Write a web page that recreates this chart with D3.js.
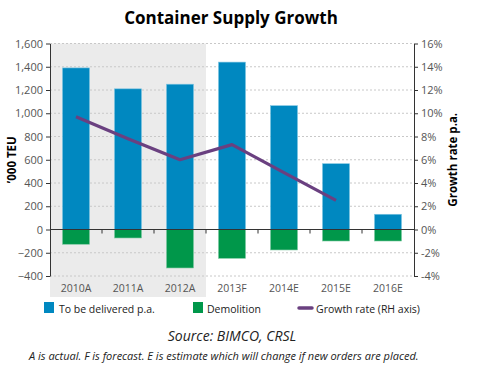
<!DOCTYPE html>
<html><head><meta charset="utf-8">
<script src="https://cdn.jsdelivr.net/npm/d3@7"></script>
<style>body{margin:0;background:#fff}svg{display:block}text{font-family:"Open Sans","Noto Sans",sans-serif}</style>
</head><body><svg id="c" width="480" height="367"></svg>
<script>
const categories = ["2010A","2011A","2012A","2013F","2014E","2015E","2016E"];
const delivered = [1390,1210,1250,1440,1065,566,131];
const demolition = [-127,-73,-331,-248,-176,-99,-99];
const growth = [9.7,7.8,6.0,7.3,4.9,2.5,null];
const leftTicks = [-400,-200,0,200,400,600,800,1000,1200,1400,1600];
const rightTicks = [-4,-2,0,2,4,6,8,10,12,14,16];
const actualCats = ["2010A","2011A","2012A"];

const svg = d3.select("#c");
const L = 50, R = 414, T = 43.5, B = 276;
const x = d3.scaleBand().domain(categories).range([L,R]).paddingInner(0.48).paddingOuter(0.24);
const xb = d3.scaleBand().domain(categories).range([L,R]);
const y = d3.scaleLinear().domain([-400,1600]).range([B,T]);
const y2 = d3.scaleLinear().domain([-4,16]).range([B,T]);

// shaded actual region
svg.append("rect").attr("x",L).attr("y",T).attr("width",xb(actualCats[actualCats.length-1])+xb.bandwidth()-L)
  .attr("height",297-T).attr("fill","#ebebeb");

// gridlines
svg.append("g").selectAll("line").data(leftTicks.filter(d=>d!==0)).join("line")
  .attr("x1",L).attr("x2",R).attr("y1",d=>y(d)).attr("y2",d=>y(d))
  .attr("stroke","#c8c8c8").attr("stroke-dasharray","2,2").attr("stroke-width",1);

// bars
svg.append("g").selectAll("rect").data(categories).join("rect")
  .attr("x",d=>x(d)).attr("width",x.bandwidth())
  .attr("y",(d,i)=>y(delivered[i])).attr("height",(d,i)=>y(0)-y(delivered[i]))
  .attr("fill","#0088c0").attr("stroke","#7fc6e2").attr("stroke-width",0.6);
svg.append("g").selectAll("rect").data(categories).join("rect")
  .attr("x",d=>x(d)).attr("width",x.bandwidth())
  .attr("y",y(0)).attr("height",(d,i)=>y(demolition[i])-y(0))
  .attr("fill","#00974a").attr("stroke","#7fcaa3").attr("stroke-width",0.6);

// zero line + category ticks
svg.append("line").attr("x1",L).attr("x2",R).attr("y1",y(0)).attr("y2",y(0)).attr("stroke","#333").attr("stroke-width",1);
svg.append("g").selectAll("line").data(categories.slice(1)).join("line")
  .attr("x1",d=>xb(d)).attr("x2",d=>xb(d)).attr("y1",y(0)).attr("y2",y(0)+4).attr("stroke","#333");

// growth line
const line = d3.line().defined(d=>d.v!=null).x(d=>xb(d.c)+xb.bandwidth()/2).y(d=>y2(d.v));
svg.append("path").datum(categories.map((c,i)=>({c,v:growth[i]})))
  .attr("d",line).attr("fill","none").attr("stroke","#6a4080").attr("stroke-width",3.2).attr("stroke-linejoin","round");

// axes
const ax = svg.append("g").attr("transform",`translate(${L},0)`)
  .call(d3.axisLeft(y).tickValues(leftTicks).tickFormat(d3.format(",")).tickSize(4).tickSizeOuter(0));
const ax2 = svg.append("g").attr("transform",`translate(${R},0)`)
  .call(d3.axisRight(y2).tickValues(rightTicks).tickFormat(d=>d+"%").tickSize(4).tickSizeOuter(0));
[ax,ax2].forEach(a=>{
  a.select(".domain").attr("stroke","#333");
  a.selectAll(".tick line").attr("stroke","#333");
  a.selectAll("text").attr("fill","#555").attr("font-size",11).attr("font-family","'Open Sans',sans-serif");
});

// x labels
svg.append("g").selectAll("text").data(categories).join("text")
  .attr("x",d=>xb(d)+xb.bandwidth()/2).attr("y",292).attr("text-anchor","middle")
  .attr("font-size",10.5).attr("fill","#555").text(d=>d);

// titles
svg.append("text").attr("x",231).attr("y",24).attr("text-anchor","middle").attr("font-size",17).attr("font-weight","bold").attr("fill","#000").text("Container Supply Growth");
svg.append("text").attr("transform",`translate(16,${(T+B)/2}) rotate(-90)`).attr("text-anchor","middle").attr("font-size",11.5).attr("font-weight","bold").text("\u2019000 TEU");
svg.append("text").attr("transform",`translate(457,${(T+B)/2}) rotate(-90)`).attr("text-anchor","middle").attr("font-size",11.5).attr("font-weight","bold").text("Growth rate p.a.");

// legend
const lg = svg.append("g");
lg.append("rect").attr("x",44).attr("y",302).attr("width",10).attr("height",11).attr("fill","#0088c0");
lg.append("text").attr("x",59).attr("y",312.5).attr("font-size",10.5).attr("fill","#222").text("To be delivered p.a.");
lg.append("rect").attr("x",193).attr("y",302).attr("width",10).attr("height",11).attr("fill","#00974a");
lg.append("text").attr("x",207).attr("y",312.5).attr("font-size",10.5).attr("fill","#222").text("Demolition");
lg.append("line").attr("x1",299).attr("x2",312).attr("y1",308).attr("y2",308).attr("stroke","#6a4080").attr("stroke-width",3.5).attr("stroke-linecap","round");
lg.append("text").attr("x",316).attr("y",312.5).attr("font-size",10.5).attr("fill","#222").text("Growth rate (RH axis)");

svg.append("text").attr("x",232).attr("y",341).attr("text-anchor","middle").attr("font-size",14).attr("font-style","italic").attr("fill","#222").text("Source: BIMCO, CRSL");
svg.append("text").attr("x",29).attr("y",360).attr("font-size",11).attr("font-style","italic").attr("fill","#222").text("A is actual. F is forecast. E is estimate which will change if new orders are placed.");
</script></body></html>
